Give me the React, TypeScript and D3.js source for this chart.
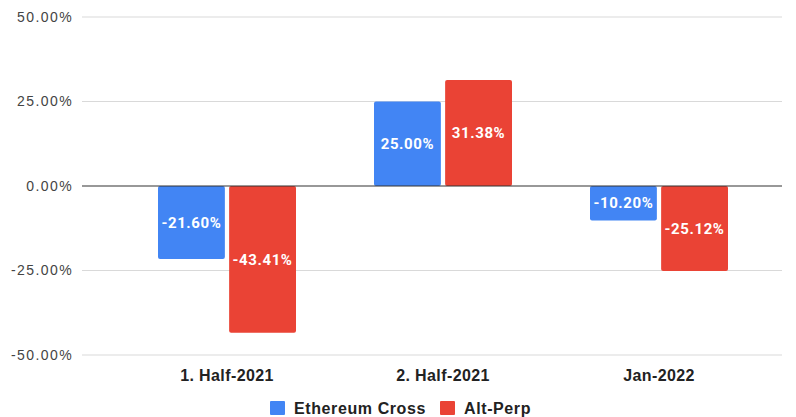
import { useEffect, useRef } from 'react';
import * as d3 from 'd3';

const categories = ['1. Half-2021', '2. Half-2021', 'Jan-2022'];
const seriesNames = ['Ethereum Cross', 'Alt-Perp'];
const ethereumCross = [-21.6, 25.0, -10.2];
const altPerp = [-43.41, 31.38, -25.12];
const yTicks = [-50, -25, 0, 25, 50];
const colors = ['#4285f4', '#ea4335'];

export default function App() {
  const svgRef = useRef<SVGSVGElement>(null);

  useEffect(() => {
    if (!svgRef.current) return;
    const svg = d3.select(svgRef.current);
    svg.selectAll('*').remove();

    const width = 796;
    const height = 417;
    const gridLeft = 82;
    const gridRight = 782;

    const x = d3.scaleBand<string>().domain(categories).range([119, 767]);
    const inner = d3
      .scaleBand<string>()
      .domain(seriesNames)
      .range([x.bandwidth() / 2 - 69, x.bandwidth() / 2 + 69])
      .paddingInner(0.06);
    const y = d3.scaleLinear().domain([-50, 50]).range([355, 17]);

    svg.attr('width', width).attr('height', height);

    // gridlines
    svg
      .append('g')
      .selectAll('line')
      .data(yTicks.filter((t) => t !== 0))
      .enter()
      .append('line')
      .attr('x1', gridLeft)
      .attr('x2', gridRight)
      .attr('y1', (d) => y(d))
      .attr('y2', (d) => y(d))
      .attr('stroke', '#d9d9d9')
      .attr('stroke-width', 1);

    // y labels
    svg
      .append('g')
      .selectAll('text')
      .data(yTicks)
      .enter()
      .append('text')
      .attr('x', 73)
      .attr('y', (d) => y(d))
      .attr('dy', '0.35em')
      .attr('text-anchor', 'end')
      .style('font-family', 'Arial, "Liberation Sans", sans-serif')
      .style('font-size', '14px')
      .style('letter-spacing', '1.4px')
      .style('fill', '#444')
      .text((d) => `${d.toFixed(2)}%`);

    const rows = categories.map((c, i) => ({
      cat: c,
      values: [ethereumCross[i], altPerp[i]],
    }));

    const groups = svg
      .append('g')
      .selectAll('g')
      .data(rows)
      .enter()
      .append('g')
      .attr('transform', (d) => `translate(${x(d.cat)},0)`);

    const bars = groups
      .selectAll('g')
      .data((d) => d.values.map((v, j) => ({ v, name: seriesNames[j], j })))
      .enter()
      .append('g');

    bars
      .append('rect')
      .attr('x', (d) => inner(d.name)!)
      .attr('width', inner.bandwidth())
      .attr('y', (d) => Math.min(y(d.v), y(0)))
      .attr('height', (d) => Math.abs(y(d.v) - y(0)))
      .attr('rx', 2)
      .attr('fill', (d) => colors[d.j]);

    bars
      .append('text')
      .attr('x', (d) => inner(d.name)! + inner.bandwidth() / 2)
      .attr('y', (d) => (y(d.v) + y(0)) / 2)
      .attr('dy', '0.35em')
      .attr('text-anchor', 'middle')
      .style('font-family', 'Roboto, Arial, sans-serif')
      .style('font-weight', 'bold')
      .style('font-size', '15px')
      .style('letter-spacing', '0.6px')
      .style('fill', '#fff')
      .text((d) => `${d.v.toFixed(2)}%`);

    // zero line
    svg
      .append('line')
      .attr('x1', gridLeft)
      .attr('x2', gridRight)
      .attr('y1', y(0))
      .attr('y2', y(0))
      .attr('stroke', '#333')
      .attr('stroke-width', 1.2);

    // x labels
    svg
      .append('g')
      .selectAll('text')
      .data(categories)
      .enter()
      .append('text')
      .attr('x', (d) => x(d)! + x.bandwidth() / 2)
      .attr('y', 375)
      .attr('dy', '0.35em')
      .attr('text-anchor', 'middle')
      .style('font-family', 'Arial, "Liberation Sans", sans-serif')
      .style('font-weight', 'bold')
      .style('font-size', '16px')
      .style('letter-spacing', '0.4px')
      .style('fill', '#222')
      .text((d) => d);

    // legend
    const legendX = [270, 440];
    const legend = svg
      .append('g')
      .selectAll('g')
      .data(seriesNames)
      .enter()
      .append('g')
      .attr('transform', (_d, i) => `translate(${legendX[i]},401)`);
    legend
      .append('rect')
      .attr('width', 15)
      .attr('height', 14)
      .attr('rx', 1)
      .attr('fill', (_d, i) => colors[i]);
    legend
      .append('text')
      .attr('x', 24)
      .attr('y', 7)
      .attr('dy', '0.35em')
      .style('font-family', 'Arial, "Liberation Sans", sans-serif')
      .style('font-weight', 'bold')
      .style('font-size', '16px')
      .style('letter-spacing', '0.6px')
      .style('fill', '#222')
      .text((d) => d);
  }, []);

  return (
    <div style={{ position: 'absolute', left: 0, top: 0 }}>
      <svg ref={svgRef}></svg>
    </div>
  );
}
